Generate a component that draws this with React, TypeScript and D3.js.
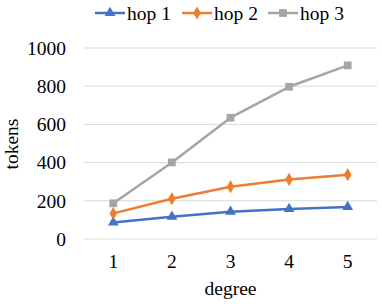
import React, { useRef, useEffect } from 'react';
import * as d3 from 'd3';

const degrees = ['1', '2', '3', '4', '5'];
const hop1 = [87, 117, 143, 157, 168];
const hop2 = [134, 211, 274, 312, 337];
const hop3 = [187, 401, 635, 797, 909];
const yTicks = [0, 200, 400, 600, 800, 1000];
const seriesNames = ['hop 1', 'hop 2', 'hop 3'];
const colors = ['#4472C4', '#ED7D31', '#A5A5A5'];

const App = () => {
  const svgRef = useRef<SVGSVGElement>(null);

  useEffect(() => {
    const width = 382;
    const height = 304;
    const margin = { top: 48, right: 5, bottom: 65, left: 84 };

    const svg = d3.select(svgRef.current!);
    svg.selectAll('*').remove();

    const x = d3.scaleBand()
      .domain(degrees)
      .range([margin.left, width - margin.right]);

    const y = d3.scaleLinear()
      .domain([0, 1000])
      .range([height - margin.bottom, margin.top]);

    // gridlines
    svg.append('g')
      .selectAll('line')
      .data(yTicks)
      .enter()
      .append('line')
      .attr('x1', margin.left)
      .attr('x2', width - margin.right)
      .attr('y1', d => y(d))
      .attr('y2', d => y(d))
      .attr('stroke', '#D9D9D9')
      .attr('stroke-width', 1);

    // y tick labels
    svg.append('g')
      .selectAll('text')
      .data(yTicks)
      .enter()
      .append('text')
      .attr('x', 66)
      .attr('y', d => y(d))
      .attr('dy', '0.35em')
      .attr('text-anchor', 'end')
      .text(d => d);

    // x tick labels
    svg.append('g')
      .selectAll('text')
      .data(degrees)
      .enter()
      .append('text')
      .attr('x', d => x(d)! + x.bandwidth() / 2)
      .attr('y', 268)
      .attr('text-anchor', 'middle')
      .text(d => d);

    // axis titles
    svg.append('text')
      .attr('x', (margin.left + width - margin.right) / 2)
      .attr('y', 295)
      .attr('text-anchor', 'middle')
      .text('degree');

    svg.append('text')
      .attr('transform', `translate(18,144) rotate(-90)`)
      .attr('text-anchor', 'middle')
      .text('tokens');

    const series = [hop1, hop2, hop3];
    const symbols = [d3.symbolTriangle, d3.symbolDiamond, d3.symbolSquare];
    const symSizes = [50, 50, 60];

    const line = d3.line<number>()
      .x((_, i) => x(degrees[i])! + x.bandwidth() / 2)
      .y(d => y(d));

    series.forEach((vals, si) => {
      const g = svg.append('g');
      g.append('path')
        .datum(vals)
        .attr('d', line)
        .attr('fill', 'none')
        .attr('stroke', colors[si])
        .attr('stroke-width', 2.5)
        .attr('stroke-linejoin', 'round');

      g.selectAll('path.marker')
        .data(vals)
        .enter()
        .append('path')
        .attr('class', 'marker')
        .attr('d', d3.symbol().type(symbols[si]).size(symSizes[si])()!)
        .attr('transform', (d, i) => `translate(${x(degrees[i])! + x.bandwidth() / 2},${y(d)})`)
        .attr('fill', colors[si]);
    });

    // legend
    const legendX = [95, 182, 268];
    const legend = svg.append('g')
      .selectAll('g')
      .data(seriesNames)
      .enter()
      .append('g')
      .attr('transform', (_, i) => `translate(${legendX[i]},13)`);

    legend.append('line')
      .attr('x1', 0)
      .attr('x2', 30)
      .attr('stroke', (_, i) => colors[i])
      .attr('stroke-width', 2.5);

    legend.append('path')
      .attr('d', (_, i) => d3.symbol().type(symbols[i]).size(symSizes[i])()!)
      .attr('transform', 'translate(15,0)')
      .attr('fill', (_, i) => colors[i]);

    legend.append('text')
      .attr('x', 32)
      .attr('dy', '0.35em')
      .text(d => d);
  }, []);

  return (
    <svg
      ref={svgRef}
      width={382}
      height={304}
      fontFamily="Liberation Serif, Times New Roman, serif"
      fontSize={19.5}
      fill="#000"
      style={{ position: 'absolute', left: 0, top: 0, background: '#fff' }}
    />
  );
};

export default App;
